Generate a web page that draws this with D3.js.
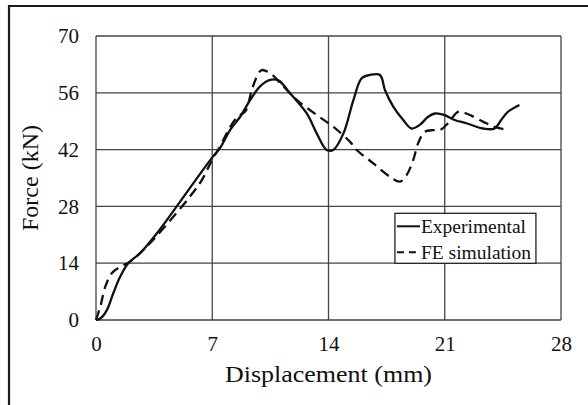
<!DOCTYPE html>
<html>
  <head>
    <meta charset="utf-8">
    <script src="https://d3js.org/d3.v7.min.js"></script>
    <style>
      body { margin: 0px; background: #fff; }
      text { font-family: "Liberation Serif", "Times New Roman", serif; fill: #111; }
    </style>
  </head>
  <body>
    <svg width="588" height="405"></svg>
    <script>
      // displacement (mm), force (kN)
      const experimental = [
        [0, 0], [0.3, 0.5], [0.66, 2.5], [1.04, 6.6], [1.46, 10.7], [1.94, 14], [2.66, 16.5],
        [3.67, 21.4], [5.0, 28.8], [6.07, 34.9], [6.97, 39.9], [7.47, 42.4], [8.07, 46.8],
        [8.68, 50.1], [9.28, 54.2], [9.88, 57.6], [10.5, 59.2], [11.0, 59], [11.68, 55.9],
        [12.69, 50.9], [13.29, 46], [13.89, 41.9], [14.29, 41.9], [14.9, 46], [15.5, 54.2],
        [16.0, 59.6], [16.5, 60.4], [17.1, 60.4], [17.4, 56.7], [17.9, 52.6], [18.5, 49.3],
        [19.0, 47.2], [19.5, 48.1], [20.0, 50.1], [20.4, 50.9], [21.0, 50.5], [21.6, 49.3],
        [22.3, 48.5], [23.3, 47.2], [24.0, 47.2], [24.4, 49.3], [24.8, 51.3], [25.5, 53.0]
      ];
      const simulation = [
        [0, 0], [0.26, 3.3], [0.56, 8.2], [0.96, 11.6], [1.46, 13.1], [2.06, 14.4], [2.66, 16.5],
        [3.67, 20.8], [5.67, 30.5], [6.37, 34.5], [7.0, 39.5], [7.5, 43], [8.0, 47], [8.5, 50],
        [9.0, 51.5], [9.38, 56.7], [9.78, 60.8], [9.98, 61.6], [10.5, 60.8], [11.3, 57.5],
        [12.1, 54.2], [13.3, 50.5], [14.3, 47.6], [15.3, 43.9], [15.7, 41.9], [16.7, 38.6],
        [17.7, 35.3], [18.3, 34.1], [18.7, 35.7], [19.1, 39.4], [19.4, 43.6], [19.8, 46.4],
        [20.3, 46.8], [20.7, 46.8], [21.2, 48.5], [21.8, 51.3], [22.3, 50.9], [23.3, 48.9],
        [24.0, 47.6], [24.8, 46.8]
      ];
      const xTicks = [0, 7, 14, 21, 28];
      const yTicks = [0, 14, 28, 42, 56, 70];
      const seriesNames = ['Experimental', 'FE simulation'];

      const svg = d3.select('svg');
      const margin = { left: 96, top: 36, right: 27, bottom: 85 };
      const width = +svg.attr('width');
      const height = +svg.attr('height');
      const innerWidth = width - margin.left - margin.right;
      const innerHeight = height - margin.top - margin.bottom;

      // figure frame (only top and left edges visible)
      svg.append('path')
        .attr('d', `M9,405 V6 H588`)
        .attr('fill', 'none')
        .attr('stroke', '#1a1a1a')
        .attr('stroke-width', 2.2);

      const g = svg.append('g')
        .attr('transform', `translate(${margin.left}, ${margin.top})`);

      const xScale = d3.scaleLinear().domain([0, 28]).range([0, innerWidth]);
      const yScale = d3.scaleLinear().domain([0, 70]).range([innerHeight, 0]);

      // grid
      g.selectAll('.vgrid').data(xTicks)
        .enter().append('line')
          .attr('x1', d => xScale(d)).attr('x2', d => xScale(d))
          .attr('y1', 0).attr('y2', innerHeight)
          .attr('stroke', '#444').attr('stroke-width', 1.3);
      g.selectAll('.hgrid').data(yTicks)
        .enter().append('line')
          .attr('y1', d => yScale(d)).attr('y2', d => yScale(d))
          .attr('x1', 0).attr('x2', innerWidth)
          .attr('stroke', '#444').attr('stroke-width', 1.3);

      const xAxis = d3.axisBottom(xScale).tickValues(xTicks).tickSize(0).tickPadding(16);
      const yAxis = d3.axisLeft(yScale).tickValues(yTicks).tickSize(0).tickPadding(17);

      const xAxisG = g.append('g')
        .attr('transform', `translate(0, ${innerHeight})`)
        .call(xAxis);
      const yAxisG = g.append('g').call(yAxis);
      [xAxisG, yAxisG].forEach(a => {
        a.attr('font-family', null).attr('font-size', null);
        a.select('.domain').remove();
        a.selectAll('text')
          .style('font-size', '21px')
          .attr('fill', '#111');
      });

      const line = d3.line()
        .x(d => xScale(d[0]))
        .y(d => yScale(d[1]))
        .curve(d3.curveCatmullRom.alpha(0.5));

      g.append('path')
        .datum(simulation)
        .attr('d', line)
        .attr('fill', 'none')
        .attr('stroke', '#111')
        .attr('stroke-width', 2.3)
        .attr('stroke-dasharray', '10,6');

      g.append('path')
        .datum(experimental)
        .attr('d', line)
        .attr('fill', 'none')
        .attr('stroke', '#111')
        .attr('stroke-width', 2.3);

      // legend
      const legend = g.append('g')
        .attr('transform', `translate(${xScale(18.0)}, ${yScale(26.3)})`);
      legend.append('rect')
        .attr('width', 141).attr('height', 50)
        .attr('fill', '#fff')
        .attr('stroke', '#222').attr('stroke-width', 1.3);
      seriesNames.forEach((name, i) => {
        const y = 13 + i * 26;
        legend.append('line')
          .attr('x1', 2).attr('x2', 25)
          .attr('y1', y).attr('y2', y)
          .attr('stroke', '#111').attr('stroke-width', 2)
          .attr('stroke-dasharray', i === 1 ? '7,5' : null);
        legend.append('text')
          .attr('x', 26).attr('y', y + 6.5)
          .style('font-size', '19.5px')
          .text(name);
      });

      svg.append('text')
        .attr('x', margin.left + innerWidth / 2)
        .attr('y', 382)
        .style('text-anchor', 'middle')
        .style('font-size', '23px')
        .attr('textLength', 207)
        .attr('lengthAdjust', 'spacingAndGlyphs')
        .text('Displacement (mm)');

      svg.append('text')
        .attr('transform', `translate(38, ${margin.top + innerHeight / 2}) rotate(-90)`)
        .style('text-anchor', 'middle')
        .style('font-size', '24px')
        .text('Force (kN)');
    </script>
  </body>
</html>
